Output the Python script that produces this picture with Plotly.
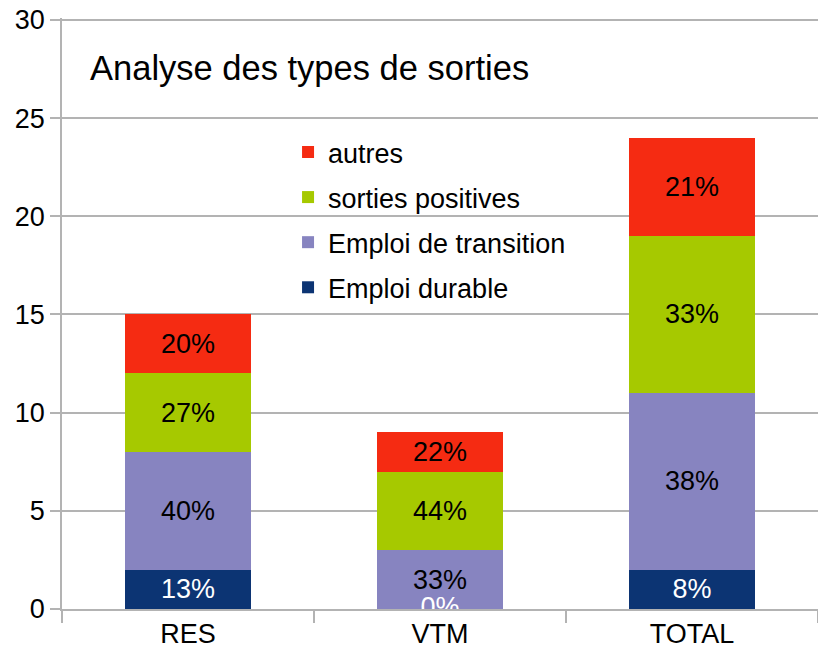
import plotly.graph_objects as go

# --- Données ---
categories = ["RES", "VTM", "TOTAL"]
emploi_durable = [2, 0, 2]
emploi_transition = [6, 3, 9]
sorties_positives = [4, 4, 8]
autres = [3, 2, 5]

series = [
    ("Emploi durable", emploi_durable, "#0c3473", "white"),
    ("Emploi de transition", emploi_transition, "#8784c0", "black"),
    ("sorties positives", sorties_positives, "#a6c900", "black"),
    ("autres", autres, "#f52b12", "black"),
]

totaux = [sum(v) for v in zip(*[s[1] for s in series])]
FONT = "Liberation Sans, Arial, sans-serif"

fig = go.Figure()
for i, (nom, valeurs, couleur, couleur_texte) in enumerate(series):
    pct = [f"{round(v * 100 / t)}%" for v, t in zip(valeurs, totaux)]
    fig.add_trace(go.Bar(
        x=categories, y=valeurs, name=nom, legendgroup=nom,
        legendrank=len(series) - i,
        marker=dict(color=couleur, line=dict(width=0)),
        text=pct, textposition="inside", insidetextanchor="middle",
        textangle=0, constraintext="none",
        textfont=dict(family=FONT, size=27, color=couleur_texte),
        hoverinfo="skip",
    ))

# 0% pour les valeurs nulles (coupé par l'axe comme dans l'original)
zeros = [(c, v, f"{round(v * 100 / t)}%") for c, v, t in zip(categories, emploi_durable, totaux) if v == 0]
fig.add_trace(go.Scatter(
    x=[z[0] for z in zeros], y=[z[1] for z in zeros], text=[z[2] for z in zeros],
    mode="text", textposition="middle center", cliponaxis=True,
    textfont=dict(family=FONT, size=27, color="white"),
    showlegend=False, hoverinfo="skip",
))

fig.add_annotation(
    text="Analyse des types de sorties", xref="paper", yref="paper",
    x=0.034, y=0.915, xanchor="left", yanchor="middle", showarrow=False,
    font=dict(family=FONT, size=34.5, color="black"),
)

# plage un peu au-dessus de 30 pour que la grille du haut reste visible
fig.update_layout(
    width=818, height=657,
    margin=dict(l=62, r=0, t=18, b=48),
    paper_bgcolor="white", plot_bgcolor="white",
    barmode="stack", bargap=0.5,
    font=dict(family=FONT, size=27, color="black"),
    legend=dict(
        x=0.299, y=0.814, xanchor="left", yanchor="top",
        traceorder="grouped", tracegroupgap=7,
        font=dict(family=FONT, size=27, color="black"),
        bgcolor="rgba(0,0,0,0)",
    ),
    xaxis=dict(
        automargin=False,
        showline=True, linecolor="#b3b3b3", linewidth=1.5,
        ticks="outside", tickson="boundaries", ticklen=12,
        tickcolor="#b3b3b3", tickwidth=1.5,
        tickfont=dict(family=FONT, size=27, color="black"),
    ),
    yaxis=dict(
        automargin=False,
        range=[0, 30.1], dtick=5,
        showgrid=True, gridcolor="#b3b3b3", gridwidth=1.5,
        showline=True, linecolor="#b3b3b3", linewidth=1.5,
        ticks="outside", ticklen=10, tickcolor="#b3b3b3", tickwidth=1.5,
        tickfont=dict(family=FONT, size=27, color="black"),
        zeroline=False,
    ),
)

# pas de marge de page, pour que le graphique remplisse la fenêtre
fig.write_html(
    "out.html",
    config={"displayModeBar": False},
    post_script="document.body.style.margin='0';document.body.style.overflow='hidden';",
)
